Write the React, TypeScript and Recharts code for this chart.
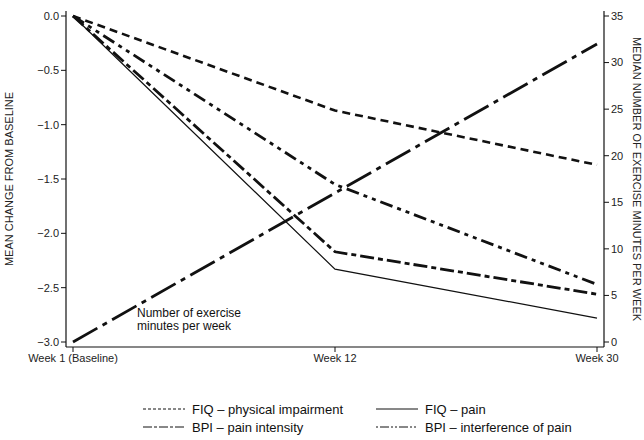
import React from "react";
import { LineChart, Line, XAxis, YAxis } from "recharts";

const weeks = ["Week 1 (Baseline)", "Week 12", "Week 30"];
const fiqPhysical = [0, -0.87, -1.37];
const fiqPain = [0, -2.33, -2.78];
const bpiIntensity = [0, -2.17, -2.56];
const bpiInterference = [0, -1.55, -2.47];
const exerciseMinutes = [0, 16, 32];

const leftTicks = [-3, -2.5, -2, -1.5, -1, -0.5, 0];
const rightTicks = [0, 5, 10, 15, 20, 25, 30, 35];

const data = weeks.map((week, i) => ({
  week,
  fiqPhysical: fiqPhysical[i],
  fiqPain: fiqPain[i],
  bpiIntensity: bpiIntensity[i],
  bpiInterference: bpiInterference[i],
  exercise: exerciseMinutes[i],
}));

const INK = "#111";
const FONT = "'Liberation Sans', Arial, sans-serif";

const legendItems = [
  { label: "FIQ \u2013 physical impairment", dash: "3 2" },
  { label: "FIQ \u2013 pain", dash: undefined },
  { label: "BPI \u2013 pain intensity", dash: "9 2 3 2" },
  { label: "BPI \u2013 interference of pain", dash: "2 2 9 2 2 2" },
];

const fmtLeft = (v: number) => (v < 0 ? "\u2212" + Math.abs(v).toFixed(1) : v.toFixed(1));

export default function App() {
  const tickStyle = { fontSize: 11, fill: "#222", fontFamily: FONT };
  return (
    <div style={{ position: "absolute", left: 0, top: 0, width: 644, height: 440, background: "#fff" }}>
      <LineChart width={644} height={440} data={data} margin={{ top: 11, right: 0, bottom: 63, left: 0 }}>
        <XAxis
          xAxisId="top"
          orientation="top"
          dataKey="week"
          height={0}
          tick={false}
          tickLine={false}
          axisLine={{ stroke: INK, strokeWidth: 1.2 }}
        />
        <XAxis
          dataKey="week"
          height={30}
          padding={{ left: 7, right: 7 }}
          interval={0}
          tick={tickStyle}
          tickSize={5}
          tickLine={{ stroke: INK }}
          axisLine={{ stroke: INK, strokeWidth: 1.2 }}
        />
        <YAxis
          yAxisId="left"
          width={66}
          domain={[-3, 0]}
          ticks={leftTicks}
          padding={{ top: 5, bottom: 5 }}
          tickFormatter={fmtLeft}
          tick={tickStyle}
          tickSize={5}
          tickLine={{ stroke: INK }}
          axisLine={{ stroke: INK, strokeWidth: 1.2 }}
          label={{
            value: "MEAN CHANGE FROM BASELINE",
            angle: -90,
            position: "insideLeft",
            offset: 9,
            style: { textAnchor: "middle", fontSize: 11, fill: "#222", fontFamily: FONT },
          }}
        />
        <YAxis
          yAxisId="right"
          orientation="right"
          width={40}
          domain={[0, 35]}
          ticks={rightTicks}
          padding={{ top: 5, bottom: 5 }}
          tick={tickStyle}
          tickSize={5}
          tickLine={{ stroke: INK }}
          axisLine={{ stroke: INK, strokeWidth: 1.2 }}
          label={{
            value: "MEDIAN NUMBER OF EXERCISE MINUTES PER WEEK",
            angle: 90,
            position: "insideRight",
            offset: 7,
            style: { textAnchor: "middle", fontSize: 11, fill: "#222", fontFamily: FONT },
          }}
        />
        <Line yAxisId="left" type="linear" dataKey="fiqPhysical" stroke={INK} strokeWidth={2.6} strokeDasharray="8 5" dot={false} isAnimationActive={false} />
        <Line yAxisId="left" type="linear" dataKey="fiqPain" stroke={INK} strokeWidth={1.2} dot={false} isAnimationActive={false} />
        <Line yAxisId="left" type="linear" dataKey="bpiIntensity" stroke={INK} strokeWidth={2.8} strokeDasharray="14 4 5 4" dot={false} isAnimationActive={false} />
        <Line yAxisId="left" type="linear" dataKey="bpiInterference" stroke={INK} strokeWidth={2.8} strokeDasharray="13 5 4 5 4 5" dot={false} isAnimationActive={false} />
        <Line yAxisId="right" type="linear" dataKey="exercise" stroke={INK} strokeWidth={2.8} strokeDasharray="28 6 5 6" dot={false} isAnimationActive={false} />
      </LineChart>
      <div
        style={{
          position: "absolute",
          left: 137,
          top: 307,
          fontFamily: FONT,
          fontSize: 12,
          lineHeight: "13px",
          color: "#111",
        }}
      >
        Number of exercise
        <br />
        minutes per week
      </div>
      <div
        style={{
          position: "absolute",
          left: 143,
          top: 401,
          width: 460,
          display: "grid",
          gridTemplateColumns: "233px 227px",
          rowGap: 2,
          fontFamily: FONT,
          fontSize: 13,
          color: "#111",
        }}
      >
        {legendItems.map((item) => (
          <div key={item.label} style={{ display: "flex", alignItems: "center", height: 16 }}>
            <svg width={44} height={10} style={{ marginRight: 5 }}>
              <line x1={0} y1={5} x2={42} y2={5} stroke={INK} strokeWidth={1} strokeDasharray={item.dash} />
            </svg>
            <span>{item.label}</span>
          </div>
        ))}
      </div>
    </div>
  );
}
